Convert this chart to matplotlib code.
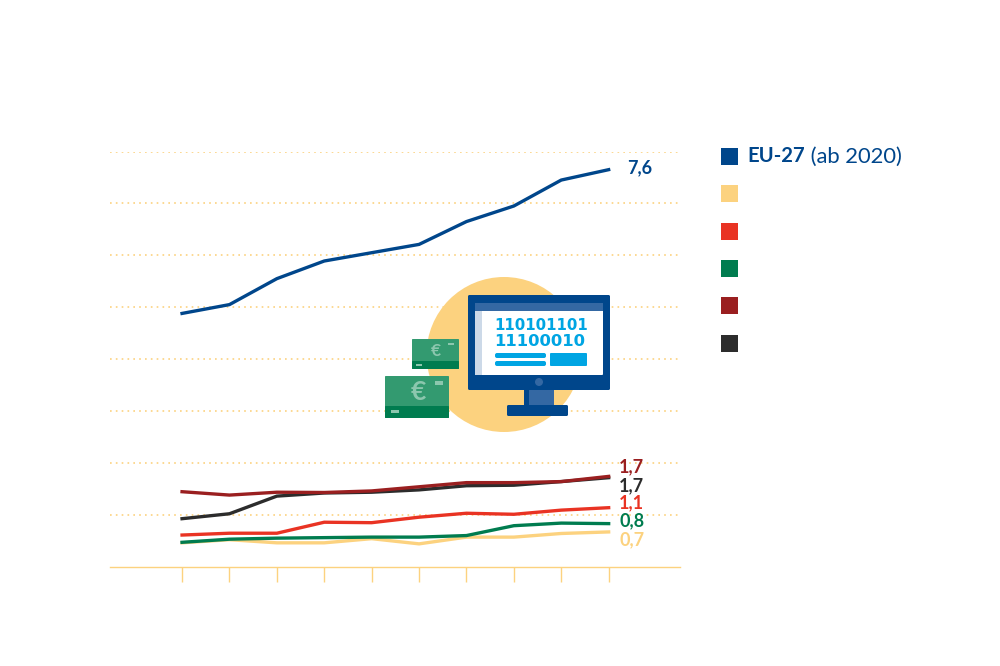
import matplotlib
matplotlib.use('Agg')
import matplotlib.pyplot as plt
from matplotlib.patches import Circle, FancyBboxPatch, Rectangle

plt.rcParams['font.family'] = ['Lato', 'Open Sans', 'DejaVu Sans']

# Values, ten unlabelled years
ticks = [0, 1, 2, 3, 4, 5, 6, 7, 8, 9]
eu27 = [4.88, 5.05, 5.55, 5.89, 6.05, 6.21, 6.65, 6.95, 7.45, 7.65]
yellow = [0.46, 0.52, 0.46, 0.46, 0.54, 0.44, 0.57, 0.57, 0.64, 0.67]
red = [0.61, 0.645, 0.645, 0.857, 0.848, 0.954, 1.03, 1.01, 1.09, 1.137]
green = [0.47, 0.53, 0.55, 0.56, 0.57, 0.57, 0.60, 0.79, 0.84, 0.83]
darkred = [1.445, 1.38, 1.435, 1.43, 1.46, 1.54, 1.62, 1.62, 1.64, 1.74]
black = [0.925, 1.02, 1.36, 1.42, 1.435, 1.48, 1.56, 1.57, 1.64, 1.715]

c_blue = '#00468B'
c_yellow = '#FCD27F'
c_red = '#E93323'
c_green = '#007C4F'
c_darkred = '#9A1F20'
c_black = '#2C2C2C'
c_light = '#3468A3'

W, H = 1000, 666
fig = plt.figure(figsize=(10, 6.66), dpi=100)

# chart area: x 110-680 px, y 151.5-566.7 px
ax = fig.add_axes([110 / W, 1 - 566.7 / H, 570 / W, 415.2 / H])
ax.set_xlim(-1.52, 10.505)
ax.set_ylim(0, 8)
for s in ['top', 'right', 'left']:
    ax.spines[s].set_visible(False)
ax.spines['bottom'].set_color(c_yellow)
ax.spines['bottom'].set_linewidth(1.0)
ax.set_xticks(ticks)
ax.set_xticklabels([])
ax.set_yticks(range(1, 9))
ax.set_yticklabels([])
ax.tick_params(axis='x', length=11, width=1.0, color=c_yellow)
ax.tick_params(axis='y', length=0)
ax.grid(axis='y', color=c_yellow, linewidth=1.2, linestyle=(0, (1, 2.5)))
ax.set_axisbelow(True)

# draw order as in the picture, label offsets in points
series = [
    (yellow, c_yellow, '0,7', 7.5, -5.8),
    (green, c_green, '0,8', 7.5, 2.2),
    (red, c_red, '1,1', 7.5, 3.6),
    (black, c_black, '1,7', 7.5, -5.8),
    (darkred, c_darkred, '1,7', 7.5, 6.8),
    (eu27, c_blue, '7,6', 13.5, 1.2),
]
for values, col, label, dx, dy in series:
    ax.plot(ticks, values, color=col, linewidth=2.4, solid_joinstyle='miter', clip_on=False)
    ax.annotate(label, (ticks[-1], values[-1]), xytext=(dx, dy), textcoords='offset points',
                color=col, fontsize=13, fontweight='bold', va='center', ha='left')

# overlay in pixel coordinates for the illustration and legend keys
ov = fig.add_axes([0, 0, 1, 1])
ov.set_xlim(0, W)
ov.set_ylim(H, 0)
ov.axis('off')
ov.patch.set_alpha(0)


def box(x0, y0, x1, y1, col, r=0.0):
    if r:
        ov.add_patch(FancyBboxPatch((x0 + r, y0 + r), x1 - x0 - 2 * r, y1 - y0 - 2 * r,
                                    boxstyle=f'round,pad={r}', fc=col, ec='none'))
    else:
        ov.add_patch(Rectangle((x0, y0), x1 - x0, y1 - y0, fc=col, ec='none'))


# legend keys
legend_cols = [c_blue, c_yellow, c_red, c_green, c_darkred, c_black]
legend_ys = [156, 193.5, 231, 268, 305, 343]
for col, y in zip(legend_cols, legend_ys):
    box(721, y - 8.5, 738, y + 8.5, col)
t = ov.text(747.5, 156.5, 'EU-27', color=c_blue, fontsize=14.6, fontweight='bold', va='center', ha='left')
ov.annotate(' (ab 2020)', xy=(1, 0.5), xycoords=t, color=c_blue, fontsize=15.8, va='center', ha='left')

# illustration
ov.add_patch(Circle((504, 354.5), 77.5, fc=c_yellow, ec='none'))

# monitor
box(524, 388, 554, 406, c_light)
box(524, 388, 529, 406, c_blue)
box(507, 405, 568, 416, c_blue, 1.5)
box(468, 295, 610, 390, c_blue, 1.5)
box(475, 303, 603, 375, 'white', 1)
box(475, 303, 603, 311, c_light)
box(475, 311, 482, 375, '#CCD9E8')
ov.add_patch(Circle((539, 382), 4, fc=c_light, ec='none'))
ov.text(494, 325.5, '110101101', color='#00A5E3', fontsize=10.8, fontweight='bold',
        family='DejaVu Sans', ha='left', va='center')
ov.text(494, 341, '11100010', color='#00A5E3', fontsize=11.8, fontweight='bold',
        family='DejaVu Sans', ha='left', va='center')
box(495, 353, 546, 358, '#00A5E3', 2)
box(495, 361, 546, 366, '#00A5E3', 2)
box(550, 353, 587, 366, '#00A5E3', 1)

# banknotes
box(412, 339, 459, 369, '#339A70', 0.8)
box(412, 361, 459, 369, c_green, 0.8)
box(448, 343, 454, 345, '#8CC7AE')
box(416, 364, 422, 366, '#8CC7AE')
ov.text(436, 350.5, '€', color='#8CC7AE', fontsize=12.5, fontweight='bold', ha='center', va='center')

box(385, 376, 449, 418, '#339A70', 0.8)
box(385, 406, 449, 418, c_green, 0.8)
box(435, 381, 443, 385, '#8CC7AE')
box(391, 410, 399, 413, '#8CC7AE')
ov.text(418, 391.5, '€', color='#8CC7AE', fontsize=19, fontweight='bold', ha='center', va='center')

fig.savefig('out.png', dpi=100, facecolor='white')
